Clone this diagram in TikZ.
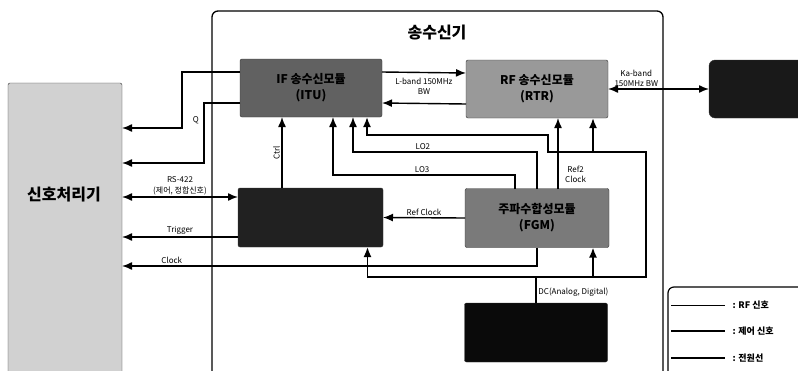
\documentclass[tikz,border=0pt]{standalone}
\usepackage{fontspec}
\setmainfont{Noto Sans CJK KR}
\usetikzlibrary{arrows.meta}

\begin{document}
\begin{tikzpicture}[x=1pt, y=-1pt,
    >={Latex[length=10pt,width=8pt]},
    module/.style={draw=black!80, line width=0.4pt, rounded corners=2pt, outer sep=0pt,
      align=center, font=\fontsize{12}{16}\selectfont\bfseries},
    sig/.style={line width=1.4pt},
    pwr/.style={line width=1.8pt},
    lbl/.style={font=\fontsize{8}{10.5}\selectfont, align=center, inner sep=1.5pt}]

  \useasboundingbox (0,0) rectangle (798,370);

  % transceiver frame
  \draw [line width=1.3pt, rounded corners=6pt] (212,385) -- (212,11) -- (663,11) -- (663,385);
  \node (title) at (437,33) {\fontsize{16}{18}\selectfont\bfseries 송수신기};

  \node (dsp) [module, fill=black!18, minimum width=114pt, minimum height=310pt, anchor=north west] at (8,83) {};
  \node (dsptext) at (64,195) {\fontsize{16}{18}\selectfont\bfseries 신호처리기};

  \node (if) [module, fill=black!62, minimum width=142pt, minimum height=58pt] at (311,88) {IF 송수신모듈\\(ITU)};
  \node (rtr) [module, fill=black!40, minimum width=142pt, minimum height=58pt] at (537,89) {RF 송수신모듈\\(RTR)};
  \node (ant) [module, fill=black!90, minimum width=110pt, minimum height=58pt, anchor=west, rounded corners=6pt] at (709,89) {};
  \node (ctl) [module, fill=black!87, minimum width=145pt, minimum height=59pt] at (310.5,217.5) {};
  \node (fgm) [module, fill=black!52, minimum width=144pt, minimum height=59pt] at (537,218) {주파수합성모듈\\(FGM)};
  \node (pwr) [module, fill=black!96, minimum width=143pt, minimum height=59pt] at (536,332.5) {};

  % IF module to signal processor
  \draw [sig,->] ([yshift=16pt]if.west) -| (182,128) -- (dsp.east |- 182,128);
  \draw [sig,->] ([yshift=-15pt]if.west) -| (204,163) node [lbl, left, pos=0.64, xshift=-3pt] {Q} -- (dsp.east |- 204,163);

  \draw [sig,<->] (dsp.east |- 0,197) -- node [lbl, above] {RS-422\\(제어, 정합신호)} (ctl.west |- 0,197);
  \draw [sig,->] (ctl.west |- 0,237) -- node [lbl, above] {Trigger} (dsp.east |- 0,237);
  \draw [sig,->] (fgm.south) |- (dsp.east |- 0,266) node [lbl, above, pos=0.94] {Clock};

  \draw [sig,->] (ctl.north -| 282,0) -- node [lbl, above, sloped] {Ctrl} (if.south -| 282,0);
  \draw [sig,->] (fgm.north -| 515,0) |- (333,175) node [lbl, above, pos=0.755] {LO3} -- (if.south -| 333,0);
  \draw [sig,->] (fgm.north) |- (353,152) node [lbl, above, pos=0.81] {LO2} -- (if.south -| 353,0);
  \draw [sig,->] (fgm.north -| 558,0) -- node [lbl, right, pos=0.2, xshift=5pt] {Ref2\\Clock} (rtr.south -| 558,0);
  \draw [sig,->] (fgm.west) -- node [lbl, above] {Ref Clock} (ctl.east);

  \draw [sig,->] ([yshift=16pt]if.east) -- node [lbl, below=3pt] {L-band 150MHz\\BW} ([yshift=16pt]rtr.west);
  \draw [sig,->] ([yshift=-15pt]rtr.west) -- ([yshift=-15pt]if.east);
  \draw [sig,<->] (rtr.east) -- node [lbl, above, pos=0.28] {Ka-band\\150MHz BW} (ant.west);

  % power
  \coordinate (dc) at (pwr.north |- 0,277);
  \coordinate (bus) at (646,152);
  \coordinate (rtrtap) at ([xshift=56pt]rtr.south |- bus);
  \draw [pwr] (pwr.north) -- node [lbl, right, pos=0.42] {DC(Analog, Digital)} (dc);
  \draw [pwr,->] (dc) -| ([xshift=57pt]ctl.south);
  \draw [pwr,->] (dc) -| ([xshift=56pt]fgm.south);
  \draw [pwr,->] (dc) -| (bus) -| (548,135) -| ([xshift=56pt]if.south);
  \draw [pwr,->] (rtrtap) -- ([xshift=56pt]rtr.south);

  % legend
  \draw [line width=1.2pt, rounded corners=6pt] (668,385) -- (668,287) -- (815,287);
  \node (lrf) [anchor=west, font=\fontsize{9}{11}\selectfont\bfseries] at (729,305) {: RF 신호};
  \node (lctl) [anchor=west, font=\fontsize{9}{11}\selectfont\bfseries] at (729,331) {: 제어 신호};
  \node (lpwr) [anchor=west, font=\fontsize{9}{11}\selectfont\bfseries] at (729,358) {: 전원선};
  \draw [line width=1pt] (671,305) -- ([xshift=-4pt]lrf.west);
  \draw [line width=1.4pt] (671,331) -- ([xshift=-4pt]lctl.west);
  \draw [line width=1.8pt] (671,358) -- ([xshift=-4pt]lpwr.west);

\end{tikzpicture}
\end{document}
